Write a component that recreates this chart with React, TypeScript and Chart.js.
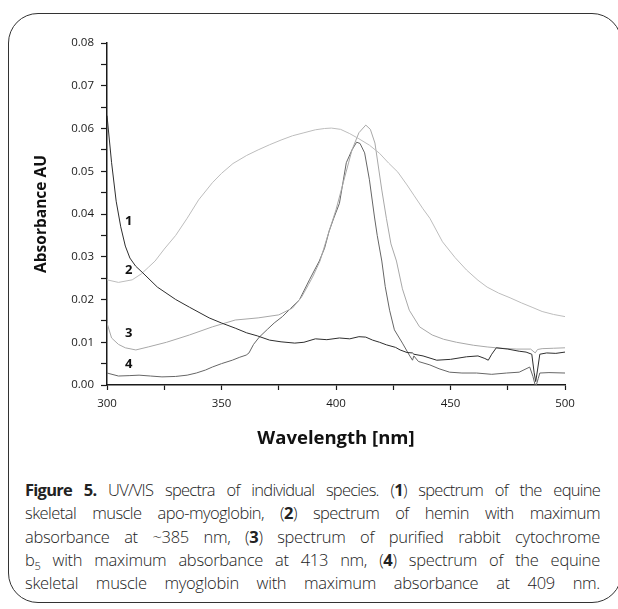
import React, { useEffect, useRef } from 'react';
import { Chart, registerables } from 'chart.js';

Chart.register(...registerables);

// (1) equine skeletal muscle apo-myoglobin
const wl1 = [300, 302, 304, 306, 308, 310, 312.5, 315.3, 322, 330, 336, 344.6, 350, 356, 361, 365.6, 371, 376, 382, 386, 391, 396, 401.5, 406, 410, 413, 416, 419, 422, 426, 428, 431, 433.4, 434, 438, 444, 450, 457, 462, 465, 466.5, 468, 470, 475, 480, 483, 485.5, 486.5, 487.2, 488, 489, 492, 496, 500];
const abs1 = [0.063, 0.052, 0.043, 0.037, 0.0325, 0.0297, 0.0278, 0.0264, 0.0229, 0.02, 0.0182, 0.0157, 0.0145, 0.0133, 0.0122, 0.0115, 0.0105, 0.0101, 0.0098, 0.01, 0.0108, 0.0106, 0.011, 0.0108, 0.0113, 0.0112, 0.0105, 0.01, 0.0094, 0.0088, 0.0082, 0.0076, 0.0075, 0.0072, 0.0068, 0.0058, 0.006, 0.0066, 0.0068, 0.0062, 0.0058, 0.0072, 0.0087, 0.0084, 0.0079, 0.0077, 0.0072, 0.003, 0.0008, 0.0035, 0.0072, 0.0075, 0.0074, 0.0077];

// (2) hemin
const wl2 = [300, 305, 311, 315, 318, 321, 325, 330, 335, 340, 346, 350, 355, 361, 366, 371, 376, 381, 386, 391, 395, 398, 402, 406, 410, 414.6, 419, 423, 427, 431, 434, 438, 441, 446.5, 452, 457, 462, 466, 471, 476, 481, 486, 490, 495, 500];
const abs2 = [0.0246, 0.024, 0.0246, 0.026, 0.0275, 0.029, 0.0318, 0.035, 0.039, 0.0433, 0.0473, 0.0495, 0.0518, 0.0537, 0.055, 0.0562, 0.0573, 0.0583, 0.059, 0.0597, 0.06, 0.0601, 0.0598, 0.0588, 0.0576, 0.0561, 0.0542, 0.0519, 0.0498, 0.0468, 0.0444, 0.0412, 0.039, 0.0335, 0.0298, 0.0269, 0.0245, 0.0229, 0.0215, 0.0204, 0.0192, 0.0181, 0.0172, 0.0165, 0.016];

// (3) purified rabbit cytochrome b5
const wl3 = [300, 302, 305, 308, 312.6, 318, 326, 336, 346, 356, 366, 375, 381, 385, 388, 390, 393, 397, 400, 403, 407, 410, 413, 415, 417, 420, 422, 424, 426.4, 429, 432, 436.5, 442, 447, 452.6, 460, 466, 472, 479, 485, 487, 488, 490, 495, 500];
const abs3 = [0.0145, 0.011, 0.0095, 0.0087, 0.0082, 0.0089, 0.01, 0.0117, 0.0136, 0.0152, 0.0157, 0.0164, 0.018, 0.0206, 0.0235, 0.0255, 0.029, 0.036, 0.041, 0.047, 0.055, 0.059, 0.0608, 0.0598, 0.0566, 0.0456, 0.039, 0.033, 0.029, 0.0225, 0.0175, 0.0136, 0.0117, 0.0107, 0.01, 0.0093, 0.0089, 0.0086, 0.0084, 0.0084, 0.0075, 0.0083, 0.0085, 0.0086, 0.0087];

// (4) equine skeletal muscle myoglobin
const wl4 = [300, 305, 310, 314, 319, 324, 330, 335, 339, 343, 346, 350, 354.7, 358, 360.8, 362, 364, 366.5, 370, 373, 376.6, 380, 384, 388.4, 392.7, 395, 397, 399, 401.5, 404.5, 407, 409, 410.5, 412.5, 414.6, 416.8, 418, 420, 421.5, 423.4, 425.5, 429, 432, 433.4, 434, 436, 441, 445, 449.6, 455, 461.4, 468, 474.5, 480, 484.6, 486, 487.2, 488.3, 489, 493, 500];
const abs4 = [0.0028, 0.0021, 0.0022, 0.0023, 0.0021, 0.0019, 0.002, 0.0023, 0.0028, 0.0035, 0.0042, 0.005, 0.0058, 0.0065, 0.007, 0.0075, 0.0095, 0.0112, 0.013, 0.0145, 0.016, 0.0178, 0.0199, 0.0246, 0.029, 0.032, 0.036, 0.039, 0.0425, 0.052, 0.055, 0.0568, 0.0565, 0.0543, 0.048, 0.0393, 0.035, 0.029, 0.023, 0.0175, 0.0129, 0.0098, 0.007, 0.0058, 0.0068, 0.0055, 0.0047, 0.0038, 0.003, 0.0028, 0.0028, 0.0025, 0.0028, 0.003, 0.0042, 0.002, -0.0005, 0.0015, 0.0028, 0.0029, 0.0028];

const seriesNames = ['1', '2', '3', '4'];
const seriesColors = ['#2e2e2e', '#bdbdbd', '#a8a8a8', '#666666'];
const labelX = [309.5, 309.5, 309.5, 309.5];
const labelY = [0.0384, 0.0269, 0.0122, 0.0049];

const xMin = 300, xMax = 500, xStep = 25;
const yMin = 0, yMax = 0.08, yStep = 0.005;
const xTitle = 'Wavelength [nm]';
const yTitle = 'Absorbance AU';

const toPoints = (xs: number[], ys: number[]) => xs.map((x, i) => ({ x, y: ys[i] }));

const labelPlugin = {
  id: 'curveLabels',
  afterDatasetsDraw(chart: any) {
    const { ctx, scales } = chart;
    ctx.save();
    ctx.font = 'bold 13px "Open Sans"';
    ctx.fillStyle = '#111';
    ctx.textAlign = 'center';
    ctx.textBaseline = 'middle';
    seriesNames.forEach((t, i) => {
      ctx.fillText(t, scales.x.getPixelForValue(labelX[i]), scales.y.getPixelForValue(labelY[i]));
    });
    ctx.restore();
  },
};

function SpectraChart() {
  const ref = useRef<HTMLCanvasElement | null>(null);
  useEffect(() => {
    if (!ref.current) return;
    const data = [toPoints(wl1, abs1), toPoints(wl2, abs2), toPoints(wl3, abs3), toPoints(wl4, abs4)];
    const chart = new Chart(ref.current, {
      type: 'line',
      data: {
        datasets: data.map((d, i) => ({
          label: seriesNames[i],
          data: d,
          borderColor: seriesColors[i],
          borderWidth: 1,
          pointRadius: 0,
          tension: 0,
          fill: false,
        })),
      },
      options: {
        animation: false,
        responsive: false,
        maintainAspectRatio: false,
        layout: { padding: { left: 24, top: 43, right: 53, bottom: 0 } },
        plugins: { legend: { display: false }, tooltip: { enabled: false } },
        scales: {
          x: {
            type: 'linear',
            min: xMin,
            max: xMax,
            afterFit: (s: any) => { s.height = 75; },
            ticks: {
              stepSize: xStep,
              autoSkip: false,
              maxRotation: 0,
              padding: 7,
              color: '#1a1a1a',
              font: { family: '"Open Sans"', size: 11.5 },
              callback: (v: any) => (Number(v) % 50 === 0 ? String(v) : ''),
            },
            grid: { drawOnChartArea: false, drawTicks: true, tickLength: 5, tickColor: '#1a1a1a', tickWidth: 1.2 },
            border: { display: true, color: '#1a1a1a', width: 1.5 },
            title: {
              display: true,
              text: xTitle,
              color: '#111',
              font: { family: '"Open Sans"', size: 18.5, weight: 'bold' },
              padding: { top: 4, bottom: 10 },
            },
          },
          y: {
            type: 'linear',
            min: yMin,
            max: yMax,
            afterFit: (s: any) => { s.width = 83; },
            ticks: {
              stepSize: yStep,
              autoSkip: false,
              padding: 7,
              color: '#1a1a1a',
              font: { family: '"Open Sans"', size: 11.5 },
              callback: (v: any) => (Math.round(Number(v) * 1000) % 10 === 0 ? Number(v).toFixed(2) : ''),
            },
            grid: { drawOnChartArea: false, drawTicks: true, tickLength: 6, tickColor: '#1a1a1a', tickWidth: 1.2 },
            border: { display: true, color: '#1a1a1a', width: 1.5 },
            title: {
              display: true,
              text: yTitle,
              color: '#111',
              font: { family: '"Open Sans"', size: 15.5, weight: 'bold' },
              padding: { top: 8, bottom: 0 },
            },
          },
        },
      },
      plugins: [labelPlugin],
    } as any);
    return () => chart.destroy();
  }, []);
  return <canvas ref={ref} width={618} height={460} style={{ position: 'absolute', left: 0, top: 0, width: 618, height: 460 }} />;
}

const lineBase: React.CSSProperties = {
  textAlign: 'justify',
  textAlignLast: 'justify' as any,
  height: 23.3,
  lineHeight: '23.3px',
  whiteSpace: 'normal',
};

export default function App() {
  return (
    <div style={{ position: 'fixed', left: 0, top: 0, width: 618, height: 609, overflow: 'hidden', background: '#fff' }}>
      <div
        style={{
          position: 'absolute',
          left: 8,
          top: 13,
          width: 614,
          height: 590,
          border: '1.5px solid #333',
          borderRadius: 30,
          boxSizing: 'border-box',
        }}
      />
      <SpectraChart />
      <div
        style={{
          position: 'absolute',
          left: 25,
          top: 478,
          width: 575,
          fontFamily: '"Open Sans", sans-serif',
          fontWeight: 300,
          fontSize: 16.5,
          color: '#222',
        }}
      >
        <div style={{ ...lineBase, letterSpacing: -0.75, wordSpacing: -3.5 }}>
          <b style={{ fontWeight: 700 }}>Figure 5.</b> UV/VIS spectra of individual species. (<b style={{ fontWeight: 700 }}>1</b>) spectrum of the equine
        </div>
        <div style={{ ...lineBase, letterSpacing: -0.55, wordSpacing: -2.5 }}>
          skeletal muscle apo-myoglobin, (<b style={{ fontWeight: 700 }}>2</b>) spectrum of hemin with maximum
        </div>
        <div style={{ ...lineBase, letterSpacing: -0.3 }}>
          absorbance at ~385 nm, (<b style={{ fontWeight: 700 }}>3</b>) spectrum of purified rabbit cytochrome
        </div>
        <div style={{ ...lineBase, letterSpacing: -0.3 }}>
          b<sub style={{ fontSize: 11, lineHeight: 0 }}>5</sub> with maximum absorbance at 413 nm, (<b style={{ fontWeight: 700 }}>4</b>) spectrum of the equine
        </div>
        <div style={{ ...lineBase, letterSpacing: -0.3 }}>
          skeletal muscle myoglobin with maximum absorbance at 409 nm.
        </div>
      </div>
    </div>
  );
}
